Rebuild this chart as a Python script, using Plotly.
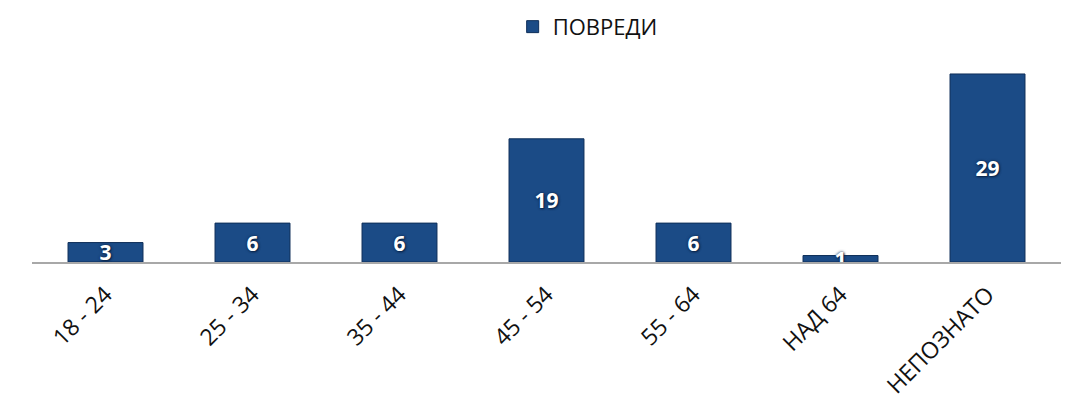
import plotly.graph_objects as go

categories = ["18 - 24", "25 - 34", "35 - 44", "45 - 54", "55 - 64", "НАД 64", "НЕПОЗНАТО"]
values = [3, 6, 6, 19, 6, 1, 29]
series_name = "ПОВРЕДИ"

fig = go.Figure()
fig.add_trace(go.Bar(
    x=categories, y=values, name=series_name,
    marker=dict(color="#1b4b86", line=dict(color="#0f2f5a", width=1)),
    text=[str(v) for v in values],
    textposition="inside", insidetextanchor="middle", textangle=0,
    textfont=dict(family="Open Sans", size=21, color="white", weight="bold",
                  shadow="0px 0px 3px #0b2447, 1px 1px 2px #0b2447"),
    showlegend=True,
))

fig.update_layout(
    width=1087, height=418,
    margin=dict(l=24, r=34, t=53, b=164, autoexpand=False),
    paper_bgcolor="white", plot_bgcolor="white",
    bargap=0.49,
    uniformtext=dict(minsize=21, mode="show"),
    showlegend=True,
    legend=dict(orientation="h", x=0.54, xanchor="center", y=1.17, yanchor="middle",
                font=dict(family="Open Sans", size=22, color="#111"),
                itemwidth=30),
    xaxis=dict(showline=True, linecolor="#a8a8a8", linewidth=2, showgrid=False,
               tickangle=-45, ticks="", automargin=False, ticklabelstandoff=8,
               tickfont=dict(family="Open Sans", size=23, color="#111")),
    yaxis=dict(range=[0, 31], visible=False, showgrid=False, zeroline=False),
)

fig.write_html("out.html")
